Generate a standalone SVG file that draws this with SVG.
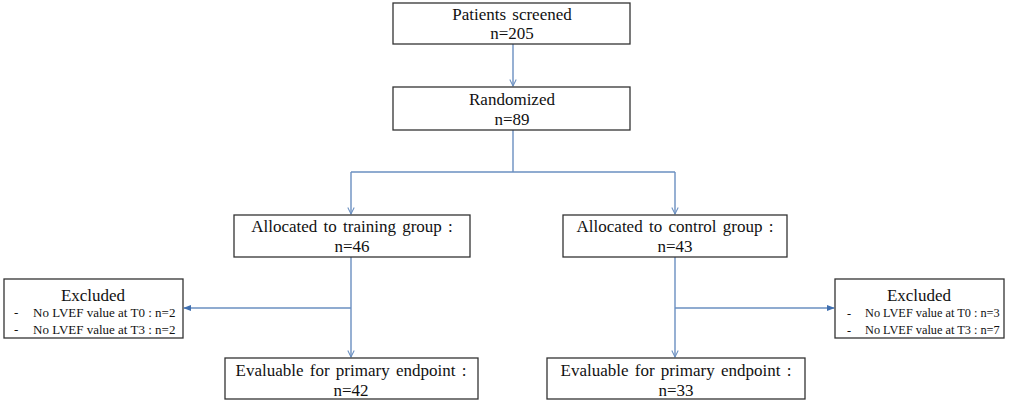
<svg xmlns="http://www.w3.org/2000/svg" width="1020" height="403" viewBox="0 0 1020 403">
<style>
.box{fill:#fff;stroke:#333;stroke-width:1.3}
.t{font-family:"Liberation Serif","Times New Roman",serif;font-size:17px;fill:#111;text-anchor:middle;word-spacing:2px}
.s{font-family:"Liberation Serif","Times New Roman",serif;font-size:13px;fill:#111}
.r{font-size:12.3px}
.c{fill:none;stroke:#6a8fc0;stroke-width:1.4}
</style>
<defs>
<marker id="open" viewBox="0 0 10 10" refX="9" refY="5" markerWidth="8" markerHeight="8" orient="auto" markerUnits="userSpaceOnUse">
<path d="M1,1 L9,5 L1,9" fill="none" stroke="#6a8fc0" stroke-width="1.3"/>
</marker>
<marker id="solid" viewBox="0 0 10 10" refX="9" refY="5" markerWidth="8" markerHeight="8" orient="auto" markerUnits="userSpaceOnUse">
<path d="M0,1 L10,5 L0,9 Z" fill="#3f6fb0"/>
</marker>
</defs>
<rect width="1020" height="403" fill="#fff"/>
<g id="connectors">
<line class="c" x1="513" y1="44" x2="513" y2="86" marker-end="url(#open)"/>
<polyline class="c" points="513,130 513,172"/>
<polyline class="c" points="351,172 675,172"/>
<line class="c" x1="351" y1="172" x2="351" y2="214" marker-end="url(#open)"/>
<line class="c" x1="675" y1="172" x2="675" y2="214" marker-end="url(#open)"/>
<line class="c" x1="351" y1="257" x2="351" y2="357" marker-end="url(#open)"/>
<line class="c" x1="675" y1="257" x2="675" y2="357" marker-end="url(#open)"/>
<line class="c" x1="351" y1="308" x2="184" y2="308" marker-end="url(#solid)"/>
<line class="c" x1="675" y1="308" x2="834" y2="308" marker-end="url(#solid)"/>
</g>
<g id="screened">
<rect class="box" x="393" y="3" width="237" height="41"/>
<text class="t" x="512" y="20">Patients screened</text>
<text class="t" x="512" y="39">n=205</text>
</g>
<g id="randomized">
<rect class="box" x="393" y="87" width="237" height="43"/>
<text class="t" x="512" y="105">Randomized</text>
<text class="t" x="512" y="125">n=89</text>
</g>
<g id="training">
<rect class="box" x="234" y="215" width="236" height="42"/>
<text class="t" x="352" y="232">Allocated to training group :</text>
<text class="t" x="352" y="252">n=46</text>
</g>
<g id="control">
<rect class="box" x="563" y="215" width="224" height="42"/>
<text class="t" x="675" y="232">Allocated to control group :</text>
<text class="t" x="675" y="252">n=43</text>
</g>
<g id="excluded-left">
<rect class="box" x="4" y="279" width="179" height="59"/>
<text class="t" x="93" y="301">Excluded</text>
<text class="s" x="14" y="317">-</text>
<text class="s" x="33" y="317">No LVEF  value at T0 : n=2</text>
<text class="s" x="14" y="334">-</text>
<text class="s" x="33" y="334">No LVEF  value at T3 : n=2</text>
</g>
<g id="excluded-right">
<rect class="box" x="835" y="279" width="169" height="59"/>
<text class="t" x="919" y="301">Excluded</text>
<text class="s r" x="847" y="317">-</text>
<text class="s r" x="865" y="317">No LVEF  value at T0 : n=3</text>
<text class="s r" x="847" y="334">-</text>
<text class="s r" x="865" y="334">No LVEF  value at T3 : n=7</text>
</g>
<g id="eval-training">
<rect class="box" x="225" y="358" width="253" height="41"/>
<text class="t" x="351" y="376">Evaluable for primary endpoint :</text>
<text class="t" x="351" y="396">n=42</text>
</g>
<g id="eval-control">
<rect class="box" x="547" y="358" width="258" height="41"/>
<text class="t" x="676" y="376">Evaluable for primary endpoint :</text>
<text class="t" x="676" y="396">n=33</text>
</g>
</svg>
